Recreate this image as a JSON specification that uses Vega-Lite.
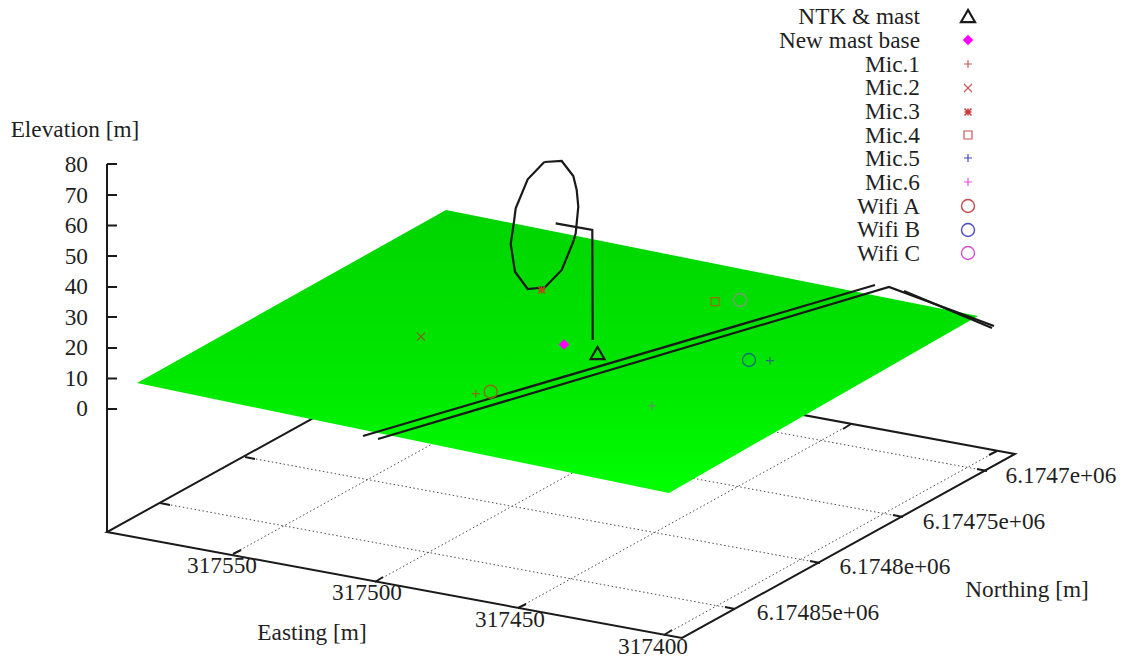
{"$schema":"https://vega.github.io/schema/vega-lite/v6.json","width":1124,"height":659,"autosize":{"type":"fit","contains":"padding"},"padding":0,"background":"white","view":{"stroke":null},"datasets":{"plane":[{"x":137,"top":383,"bottom":383},{"x":446,"top":210,"bottom":447},{"x":669,"top":254.5,"bottom":493},{"x":978,"top":316,"bottom":316}],"grid":[{"part":"e550","i":0,"x":233,"y":554},{"part":"e550","i":1,"x":566,"y":370},{"part":"e500","i":0,"x":375,"y":582},{"part":"e500","i":1,"x":708,"y":398},{"part":"e450","i":0,"x":518,"y":608},{"part":"e450","i":1,"x":851,"y":424},{"part":"e400","i":0,"x":664,"y":635},{"part":"e400","i":1,"x":997,"y":451},{"part":"n485","i":0,"x":735,"y":609},{"part":"n485","i":1,"x":160,"y":503},{"part":"n480","i":0,"x":820,"y":563},{"part":"n480","i":1,"x":245,"y":457},{"part":"n475","i":0,"x":903,"y":517},{"part":"n475","i":1,"x":328,"y":411},{"part":"n470","i":0,"x":987,"y":471},{"part":"n470","i":1,"x":412,"y":365}],"frame":[{"part":"base","i":0,"x":440,"y":348},{"part":"base","i":1,"x":107,"y":532},{"part":"base","i":2,"x":682,"y":638},{"part":"base","i":3,"x":1015,"y":454},{"part":"base","i":4,"x":440,"y":348},{"part":"zaxis","i":0,"x":107,"y":532},{"part":"zaxis","i":1,"x":107,"y":164},{"part":"z0","i":0,"x":107,"y":409},{"part":"z0","i":1,"x":117,"y":409},{"part":"z10","i":0,"x":107,"y":378.5},{"part":"z10","i":1,"x":117,"y":378.5},{"part":"z20","i":0,"x":107,"y":348},{"part":"z20","i":1,"x":117,"y":348},{"part":"z30","i":0,"x":107,"y":317},{"part":"z30","i":1,"x":117,"y":317},{"part":"z40","i":0,"x":107,"y":287},{"part":"z40","i":1,"x":117,"y":287},{"part":"z50","i":0,"x":107,"y":256},{"part":"z50","i":1,"x":117,"y":256},{"part":"z60","i":0,"x":107,"y":225.5},{"part":"z60","i":1,"x":117,"y":225.5},{"part":"z70","i":0,"x":107,"y":195},{"part":"z70","i":1,"x":117,"y":195},{"part":"z80","i":0,"x":107,"y":164},{"part":"z80","i":1,"x":117,"y":164},{"part":"te550","i":0,"x":233,"y":554},{"part":"te550","i":1,"x":241,"y":550},{"part":"te500","i":0,"x":375,"y":582},{"part":"te500","i":1,"x":383,"y":577},{"part":"te450","i":0,"x":518,"y":608},{"part":"te450","i":1,"x":526,"y":604},{"part":"te400","i":0,"x":664,"y":635},{"part":"te400","i":1,"x":672,"y":630},{"part":"be450","i":0,"x":851,"y":424},{"part":"be450","i":1,"x":843,"y":429},{"part":"be400","i":0,"x":997,"y":451},{"part":"be400","i":1,"x":989,"y":455},{"part":"tn485","i":0,"x":735,"y":609},{"part":"tn485","i":1,"x":725,"y":607},{"part":"tn480","i":0,"x":820,"y":563},{"part":"tn480","i":1,"x":810,"y":561},{"part":"tn475","i":0,"x":903,"y":517},{"part":"tn475","i":1,"x":893,"y":515},{"part":"tn470","i":0,"x":987,"y":471},{"part":"tn470","i":1,"x":977,"y":469},{"part":"ln485","i":0,"x":160,"y":503},{"part":"ln485","i":1,"x":170,"y":505},{"part":"ln480","i":0,"x":245,"y":457},{"part":"ln480","i":1,"x":255,"y":459}],"paths":[{"part":"ellipse","i":0,"x":544.3,"y":162},{"part":"ellipse","i":1,"x":561.7,"y":161},{"part":"ellipse","i":2,"x":573.3,"y":176},{"part":"ellipse","i":3,"x":576.7,"y":190},{"part":"ellipse","i":4,"x":578.3,"y":206.7},{"part":"ellipse","i":5,"x":575.7,"y":233.3},{"part":"ellipse","i":6,"x":573.3,"y":241.7},{"part":"ellipse","i":7,"x":561.7,"y":270},{"part":"ellipse","i":8,"x":545,"y":287.3},{"part":"ellipse","i":9,"x":527.7,"y":289},{"part":"ellipse","i":10,"x":515,"y":271.7},{"part":"ellipse","i":11,"x":510.7,"y":244},{"part":"ellipse","i":12,"x":514,"y":221.7},{"part":"ellipse","i":13,"x":515.7,"y":208.3},{"part":"ellipse","i":14,"x":527.7,"y":179.3},{"part":"ellipse","i":15,"x":544.3,"y":162},{"part":"mast","i":0,"x":555.7,"y":223.3},{"part":"mast","i":1,"x":592.3,"y":230},{"part":"mast","i":2,"x":592.7,"y":340},{"part":"road1","i":0,"x":363,"y":436},{"part":"road1","i":1,"x":875,"y":285},{"part":"road2","i":0,"x":378,"y":439},{"part":"road2","i":1,"x":889,"y":287},{"part":"road2","i":2,"x":994,"y":326},{"part":"road3","i":0,"x":904,"y":291},{"part":"road3","i":1,"x":992,"y":328}],"points":[{"series":"NTK & mast","where":"plot","x":597.5,"y":353},{"series":"New mast base","where":"plot","x":564,"y":344.5},{"series":"Mic.1","where":"plot","x":652,"y":406},{"series":"Mic.2","where":"plot","x":421,"y":336.7},{"series":"Mic.3","where":"plot","x":541.7,"y":290},{"series":"Mic.4","where":"plot","x":715,"y":301.7},{"series":"Mic.5","where":"plot","x":770,"y":360.7},{"series":"Mic.6","where":"plot","x":475.7,"y":393.7},{"series":"Wifi A","where":"plot","x":490.7,"y":391.7},{"series":"Wifi B","where":"plot","x":749,"y":360},{"series":"Wifi C","where":"plot","x":740,"y":300},{"series":"NTK & mast","where":"key","x":968,"y":16},{"series":"New mast base","where":"key","x":968,"y":40},{"series":"Mic.1","where":"key","x":968,"y":64},{"series":"Mic.2","where":"key","x":968,"y":88},{"series":"Mic.3","where":"key","x":968,"y":112},{"series":"Mic.4","where":"key","x":968,"y":135},{"series":"Mic.5","where":"key","x":968,"y":158},{"series":"Mic.6","where":"key","x":968,"y":182},{"series":"Wifi A","where":"key","x":968,"y":206},{"series":"Wifi B","where":"key","x":968,"y":230},{"series":"Wifi C","where":"key","x":968,"y":253}],"rightText":[{"label":"NTK & mast","x":920,"y":17},{"label":"New mast base","x":920,"y":41},{"label":"Mic.1","x":920,"y":65},{"label":"Mic.2","x":920,"y":88},{"label":"Mic.3","x":920,"y":112},{"label":"Mic.4","x":920,"y":136},{"label":"Mic.5","x":920,"y":159},{"label":"Mic.6","x":920,"y":183},{"label":"Wifi A","x":920,"y":207},{"label":"Wifi B","x":920,"y":230},{"label":"Wifi C","x":920,"y":254},{"label":"80","x":88,"y":165},{"label":"70","x":88,"y":196},{"label":"60","x":88,"y":226},{"label":"50","x":88,"y":257},{"label":"40","x":88,"y":287},{"label":"30","x":88,"y":318},{"label":"20","x":88,"y":348},{"label":"10","x":88,"y":379},{"label":"0","x":88,"y":409}],"centerText":[{"label":"Elevation [m]","x":75,"y":130},{"label":"Easting [m]","x":312,"y":633},{"label":"Northing [m]","x":1027,"y":590},{"label":"317550","x":222,"y":566},{"label":"317500","x":367,"y":593},{"label":"317450","x":510,"y":620},{"label":"317400","x":653,"y":647},{"label":"6.17485e+06","x":818,"y":613},{"label":"6.1748e+06","x":895,"y":567},{"label":"6.17475e+06","x":984,"y":522},{"label":"6.1747e+06","x":1061,"y":476}]},"encoding":{"x":{"field":"x","type":"quantitative","scale":{"domain":[0,1124]},"axis":null},"y":{"field":"y","type":"quantitative","scale":{"domain":[659,0]},"axis":null}},"layer":[{"data":{"name":"grid"},"mark":{"type":"line","color":"#4d4d4d","strokeWidth":1,"strokeDash":[1.5,2.5]},"encoding":{"detail":{"field":"part"},"order":{"field":"i"}}},{"data":{"name":"frame"},"mark":{"type":"line","color":"#1a1a1a","strokeWidth":2},"encoding":{"detail":{"field":"part"},"order":{"field":"i"}}},{"data":{"name":"plane"},"mark":{"type":"area","color":{"gradient":"linear","x1":0,"y1":0,"x2":0,"y2":1,"stops":[{"offset":0,"color":"#00d400"},{"offset":0.6,"color":"#00e800"},{"offset":1,"color":"#00ff00"}]}},"encoding":{"y":{"field":"top","type":"quantitative"},"y2":{"field":"bottom"}}},{"data":{"name":"paths"},"mark":{"type":"line","color":"#1a1a1a","strokeWidth":2.2},"encoding":{"detail":{"field":"part"},"order":{"field":"i"}}},{"data":{"name":"points"},"transform":[{"filter":"datum.where==='plot' && datum.series!=='New mast base'"}],"mark":{"type":"point","filled":false,"opacity":1},"encoding":{"shape":{"field":"series","type":"nominal","legend":null,"scale":{"domain":["NTK & mast","Mic.1","Mic.2","Mic.3","Mic.4","Mic.5","Mic.6","Wifi A","Wifi B","Wifi C"],"range":["triangle-up","M-1,0L1,0M0,-1L0,1","M-1,-1L1,1M-1,1L1,-1","M-1,0L1,0M0,-1L0,1M-1,-1L1,1M-1,1L1,-1","square","M-1,0L1,0M0,-1L0,1","M-1,0L1,0M0,-1L0,1","circle","circle","circle"]}},"size":{"field":"series","type":"nominal","legend":null,"scale":{"type":"ordinal","domain":["NTK & mast","Mic.1","Mic.2","Mic.3","Mic.4","Mic.5","Mic.6","Wifi A","Wifi B","Wifi C"],"range":[196,64,64,49,64,64,64,169,169,169]}},"strokeWidth":{"field":"series","type":"nominal","legend":null,"scale":{"type":"ordinal","domain":["NTK & mast","Mic.1","Mic.2","Mic.3","Mic.4","Mic.5","Mic.6","Wifi A","Wifi B","Wifi C"],"range":[2.2,1.2,1.2,1.5,1.2,1.2,1.2,1.4,1.4,1.4]}},"color":{"field":"series","type":"nominal","legend":null,"scale":{"domain":["NTK & mast","Mic.1","Mic.2","Mic.3","Mic.4","Mic.5","Mic.6","Wifi A","Wifi B","Wifi C"],"range":["#1a1a1a","#6f8a6a","#8a5a10","#b84a12","#9a6a10","#1f7070","#8a6a10","#8f6a10","#0f7070","#7a9a7a"]}}}},{"data":{"name":"points"},"transform":[{"filter":"datum.where==='key' && datum.series!=='New mast base'"}],"mark":{"type":"point","filled":false,"opacity":1},"encoding":{"shape":{"field":"series","type":"nominal","legend":null,"scale":{"domain":["NTK & mast","Mic.1","Mic.2","Mic.3","Mic.4","Mic.5","Mic.6","Wifi A","Wifi B","Wifi C"],"range":["triangle-up","M-1,0L1,0M0,-1L0,1","M-1,-1L1,1M-1,1L1,-1","M-1,0L1,0M0,-1L0,1M-1,-1L1,1M-1,1L1,-1","square","M-1,0L1,0M0,-1L0,1","M-1,0L1,0M0,-1L0,1","circle","circle","circle"]}},"size":{"field":"series","type":"nominal","legend":null,"scale":{"type":"ordinal","domain":["NTK & mast","Mic.1","Mic.2","Mic.3","Mic.4","Mic.5","Mic.6","Wifi A","Wifi B","Wifi C"],"range":[196,64,64,49,64,64,64,169,169,169]}},"strokeWidth":{"field":"series","type":"nominal","legend":null,"scale":{"type":"ordinal","domain":["NTK & mast","Mic.1","Mic.2","Mic.3","Mic.4","Mic.5","Mic.6","Wifi A","Wifi B","Wifi C"],"range":[2.2,1.2,1.2,1.5,1.2,1.2,1.2,1.4,1.4,1.4]}},"color":{"field":"series","type":"nominal","legend":null,"scale":{"domain":["NTK & mast","Mic.1","Mic.2","Mic.3","Mic.4","Mic.5","Mic.6","Wifi A","Wifi B","Wifi C"],"range":["#1a1a1a","#c85a5a","#c85a5a","#c83a3a","#c05a5a","#4a4ab8","#e050e0","#c04a4a","#4a4ac0","#d050d0"]}}}},{"data":{"name":"points"},"transform":[{"filter":"datum.series==='New mast base'"}],"mark":{"type":"point","filled":true,"opacity":1,"shape":"diamond","color":"#ff00ff","size":110}},{"data":{"name":"rightText"},"mark":{"type":"text","font":"Liberation Serif","fontSize":23.3,"align":"right","baseline":"middle","color":"#1f1f1f"},"encoding":{"text":{"field":"label"}}},{"data":{"name":"centerText"},"mark":{"type":"text","font":"Liberation Serif","fontSize":23.3,"align":"center","baseline":"middle","color":"#1f1f1f"},"encoding":{"text":{"field":"label"}}}],"resolve":{"scale":{"color":"independent"}}}
